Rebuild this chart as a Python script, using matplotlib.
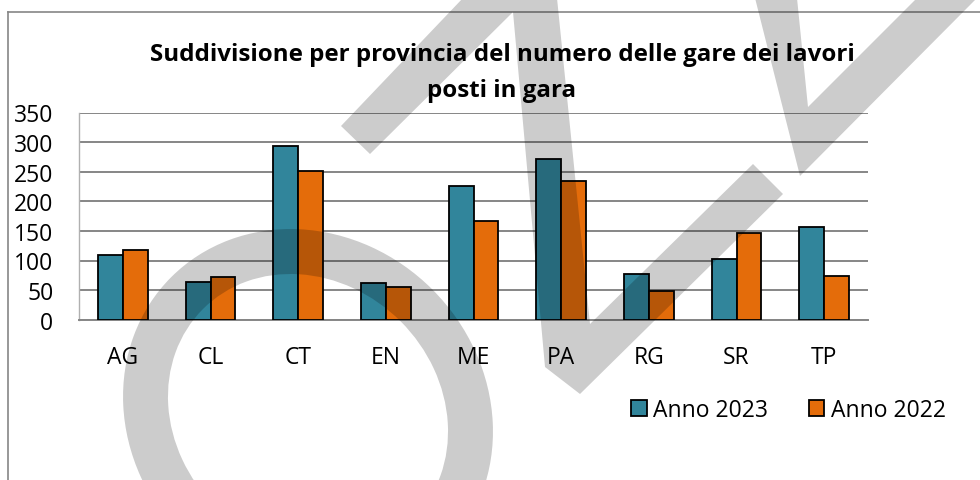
import numpy as np
import matplotlib
matplotlib.use("Agg")
import matplotlib.pyplot as plt
from matplotlib.patches import Patch, Polygon, Annulus
from matplotlib.lines import Line2D

plt.rcParams['font.family'] = ['Open Sans', 'DejaVu Sans']

# ---- data ----
categories = ["AG", "CL", "CT", "EN", "ME", "PA", "RG", "SR", "TP"]
anno_2023 = [109, 64, 293, 62, 226, 271, 78, 102, 157]
anno_2022 = [117, 72, 252, 55, 166, 234, 49, 146, 74]
series_labels = ["Anno 2023", "Anno 2022"]
yticks = [0, 50, 100, 150, 200, 250, 300, 350]
title_lines = ["Suddivisione per provincia del numero delle gare dei lavori",
               "posti in gara"]

teal = "#31859B"
orange = "#E46C0A"
grid_gray = "#868686"

W, H = 980, 481
fig = plt.figure(figsize=(W / 100, H / 100), dpi=100)
fig.patch.set_facecolor("white")

ax = fig.add_axes([79 / W, 1 - 320.7 / H, 789 / W, 207.2 / H])
x = np.arange(len(categories))
bw = 0.285
ax.bar(x - bw / 2, anno_2023, bw, color=teal, edgecolor="black", linewidth=1.3,
       label=series_labels[0], zorder=3)
ax.bar(x + bw / 2, anno_2022, bw, color=orange, edgecolor="black", linewidth=1.3,
       label=series_labels[1], zorder=3)
ax.set_xlim(-0.5, len(categories) - 0.5)
ax.set_ylim(yticks[0], yticks[-1])
ax.set_yticks(yticks)
ax.set_xticks(x)
ax.set_xticklabels(categories)
ax.yaxis.grid(True, color=grid_gray, linewidth=1.4)
ax.set_axisbelow(True)
for s in ["top", "right"]:
    ax.spines[s].set_visible(False)
ax.spines["left"].set_color("#b0b0b0")
ax.spines["left"].set_linewidth(1.0)
ax.spines["bottom"].set_color(grid_gray)
ax.spines["bottom"].set_linewidth(1.4)
ax.tick_params(axis="y", length=0, pad=18.5, labelsize=16.5, colors="black")
ax.tick_params(axis="x", length=0, pad=18, labelsize=16.5, colors="black")

# title
fig.text(502 / W, 1 - 61 / H, title_lines[0], ha="center", va="baseline",
         fontsize=17.4, fontweight="bold")
fig.text(502 / W, 1 - 97 / H, title_lines[1], ha="center", va="baseline",
         fontsize=17.4, fontweight="bold")

# legend
handles = [Patch(facecolor=teal, edgecolor="black", linewidth=1.3),
           Patch(facecolor=orange, edgecolor="black", linewidth=1.3)]
fig.legend(handles, series_labels, loc="center left",
           bbox_to_anchor=(631 / W, 1 - 411 / H), ncol=2, frameon=False,
           fontsize=16.5, handlelength=0.68, handleheight=0.68,
           handletextpad=0.3, columnspacing=1.75, borderaxespad=0, borderpad=0)

# chart border (top and left edges visible)
fig.add_artist(Line2D([8 / W, 1.0], [1 - 13 / H, 1 - 13 / H], transform=fig.transFigure,
                      color=grid_gray, linewidth=1.2))
fig.add_artist(Line2D([8 / W, 8 / W], [0, 1 - 13 / H], transform=fig.transFigure,
                      color=grid_gray, linewidth=1.2))

# watermark overlay (pixel coordinates, y downward)
wax = fig.add_axes([0, 0, 1, 1], zorder=10)
wax.set_xlim(0, W)
wax.set_ylim(H, 0)
wax.axis("off")
wax.patch.set_alpha(0)
wm = (0, 0, 0, 0.2)
wax.add_patch(Annulus((308, 415), (193.5, 176), 45, angle=45, facecolor=wm, edgecolor="none"))
wm_poly1 = [(341, 127), (463, -1), (557, -1), (590, 325), (753, 165), (783, 195),
            (580, 395), (545, 368), (513, 13), (370, 155)]
wm_poly2 = [(755, -1), (797, -1), (808, 108), (917, -1), (977, -1), (800, 177)]
wax.add_patch(Polygon(wm_poly1, closed=True, facecolor=wm, edgecolor="none"))
wax.add_patch(Polygon(wm_poly2, closed=True, facecolor=wm, edgecolor="none"))

fig.savefig("out.png", dpi=100)
